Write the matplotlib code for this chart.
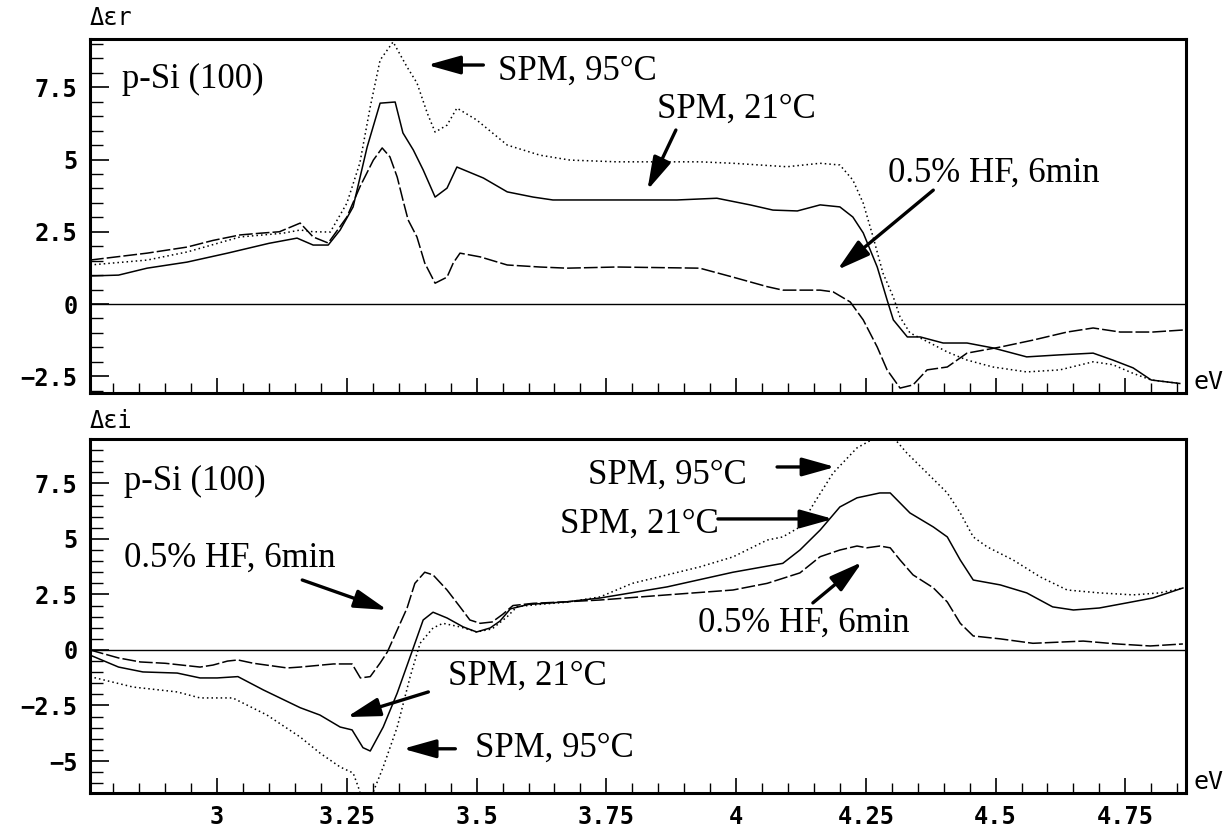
import matplotlib
matplotlib.use('Agg')
import matplotlib.pyplot as plt
from matplotlib.ticker import MultipleLocator

# ---- top panel: delta eps_r ----
r95_x = [2.755, 2.865, 2.942, 3.044, 3.127, 3.16, 3.185, 3.218, 3.25, 3.275, 3.295, 3.314, 3.339,
         3.366, 3.385, 3.405, 3.42, 3.443, 3.462, 3.50, 3.559, 3.622, 3.68, 3.77, 3.93, 3.994,
         4.098, 4.162, 4.2, 4.225, 4.245, 4.264, 4.283, 4.303, 4.316, 4.335, 4.374, 4.407, 4.445,
         4.495, 4.56, 4.624, 4.688, 4.726, 4.765, 4.80, 4.855]
r95_y = [1.35, 1.52, 1.8, 2.32, 2.45, 2.56, 2.5, 2.49, 3.49, 4.88, 6.82, 8.44, 9.07,
         8.2, 7.65, 6.6, 5.95, 6.19, 6.78, 6.37, 5.5, 5.15, 4.98, 4.92, 4.92, 4.87,
         4.75, 4.87, 4.81, 4.29, 3.49, 2.32, 1.07, 0.24, -0.45, -1.0, -1.35, -1.66, -1.94,
         -2.18, -2.35, -2.28, -2.0, -2.1, -2.4, -2.63, -2.75]

r21_x = [2.755, 2.81, 2.865, 2.942, 3.02, 3.10, 3.154, 3.185, 3.214, 3.237, 3.262, 3.289, 3.314,
         3.343, 3.358, 3.378, 3.397, 3.42, 3.443, 3.462, 3.513, 3.559, 3.609, 3.647, 3.886, 3.963,
         4.027, 4.071, 4.118, 4.162, 4.2, 4.225, 4.245, 4.272, 4.291, 4.303, 4.33, 4.355, 4.399,
         4.445, 4.495, 4.56, 4.624, 4.688, 4.726, 4.765, 4.80, 4.855]
r21_y = [0.97, 1.0, 1.24, 1.45, 1.76, 2.1, 2.28, 2.04, 2.04, 2.56, 3.36, 5.43, 6.95,
         6.99, 5.92, 5.33, 4.64, 3.7, 4.01, 4.74, 4.36, 3.88, 3.7, 3.6, 3.6, 3.66,
         3.43, 3.25, 3.22, 3.43, 3.36, 3.01, 2.46, 1.28, 0.14, -0.55, -1.14, -1.14, -1.35,
         -1.35, -1.52, -1.83, -1.76, -1.7, -1.94, -2.21, -2.63, -2.75]

rhf_x = [2.755, 2.865, 2.942, 2.992, 3.044, 3.083, 3.12, 3.16, 3.185, 3.214, 3.25, 3.275, 3.301,
         3.318, 3.333, 3.347, 3.358, 3.368, 3.385, 3.40, 3.42, 3.443, 3.455, 3.468, 3.507, 3.559,
         3.622, 3.674, 3.77, 3.93, 3.994, 4.06, 4.09, 4.162, 4.187, 4.22, 4.245, 4.272, 4.291,
         4.316, 4.341, 4.355, 4.368, 4.407, 4.445, 4.509, 4.572, 4.638, 4.688, 4.74, 4.803, 4.861]
rhf_y = [1.52, 1.76, 1.97, 2.2, 2.39, 2.45, 2.5, 2.8, 2.32, 2.11, 3.01, 4.05, 4.98,
         5.4, 5.09, 4.39, 3.6, 2.91, 2.32, 1.42, 0.72, 0.93, 1.42, 1.76, 1.63, 1.35,
         1.28, 1.24, 1.28, 1.24, 0.93, 0.6, 0.48, 0.48, 0.42, 0.07, -0.55, -1.49, -2.28,
         -2.91, -2.8, -2.53, -2.28, -2.18, -1.7, -1.49, -1.25, -0.97, -0.83, -0.97, -0.97, -0.9]

# ---- bottom panel: delta eps_i ----
i95_x = [2.755, 2.838, 2.923, 2.967, 3.03, 3.096, 3.16, 3.198, 3.237, 3.262, 3.272, 3.28, 3.295,
         3.30, 3.32, 3.347, 3.372, 3.391, 3.416, 3.435, 3.468, 3.50, 3.53, 3.559, 3.578, 3.62,
         3.674, 3.738, 3.80, 3.867, 3.93, 3.994, 4.06, 4.09, 4.123, 4.15, 4.187, 4.233, 4.272,
         4.302, 4.329, 4.368, 4.407, 4.432, 4.457, 4.484, 4.534, 4.586, 4.638, 4.70, 4.765,
         4.817, 4.861]
i95_y = [-1.2, -1.67, -1.89, -2.16, -2.16, -2.93, -3.92, -4.64, -5.27, -5.54, -6.17, -6.8, -6.8,
         -6.44, -5.27, -3.47, -1.2, 0.3, 0.99, 1.2, 1.04, 0.81, 0.95, 1.5, 1.95, 2.05,
         2.15, 2.39, 3.0, 3.38, 3.74, 4.19, 4.95, 5.09, 5.54, 6.6, 7.97, 9.1, 9.6,
         9.6, 8.87, 7.97, 7.07, 6.17, 5.09, 4.64, 4.05, 3.29, 2.7, 2.57, 2.48,
         2.57, 2.79]

i21_x = [2.755, 2.81, 2.857, 2.923, 2.967, 3.0, 3.04, 3.089, 3.16, 3.198, 3.237, 3.26, 3.281,
         3.295, 3.32, 3.347, 3.372, 3.397, 3.416, 3.443, 3.474, 3.50, 3.526, 3.545, 3.565, 3.60,
         3.674, 3.738, 3.867, 3.994, 4.09, 4.123, 4.162, 4.2, 4.233, 4.277, 4.297, 4.335, 4.38,
         4.407, 4.432, 4.457, 4.509, 4.56, 4.61, 4.65, 4.70, 4.753, 4.803, 4.861]
i21_y = [-0.23, -0.77, -0.99, -1.04, -1.26, -1.26, -1.2, -1.8, -2.6, -2.93, -3.47, -3.6, -4.4,
         -4.55, -3.47, -1.94, -0.3, 1.35, 1.7, 1.44, 1.04, 0.81, 0.99, 1.3, 1.85, 2.05,
         2.17, 2.34, 2.84, 3.5, 3.9, 4.5, 5.4, 6.44, 6.85, 7.07, 7.07, 6.17, 5.54,
         5.09, 4.05, 3.15, 2.93, 2.57, 1.94, 1.8, 1.89, 2.12, 2.34, 2.79]

ihf_x = [2.755, 2.81, 2.852, 2.90, 2.967, 2.992, 3.02, 3.04, 3.07, 3.135, 3.16, 3.224, 3.26,
         3.276, 3.295, 3.314, 3.328, 3.347, 3.366, 3.381, 3.40, 3.416, 3.443, 3.468, 3.487, 3.507,
         3.53, 3.55, 3.57, 3.609, 3.674, 3.738, 3.867, 3.994, 4.06, 4.123, 4.162, 4.2, 4.233,
         4.252, 4.277, 4.297, 4.316, 4.341, 4.38, 4.407, 4.432, 4.457, 4.509, 4.572, 4.669,
         4.734, 4.798, 4.861]
ihf_y = [0.0, -0.36, -0.54, -0.6, -0.77, -0.68, -0.5, -0.45, -0.6, -0.81, -0.77, -0.63, -0.63,
         -1.26, -1.2, -0.59, -0.09, 0.9, 1.89, 3.0, 3.5, 3.38, 2.7, 1.94, 1.35, 1.2,
         1.26, 1.6, 2.0, 2.1, 2.17, 2.25, 2.48, 2.7, 3.0, 3.47, 4.2, 4.5, 4.68,
         4.6, 4.68, 4.6, 4.05, 3.38, 2.8, 2.16, 1.2, 0.63, 0.5, 0.3, 0.4,
         0.27, 0.18, 0.27]

x_ticks = [3, 3.25, 3.5, 3.75, 4, 4.25, 4.5, 4.75]
x_labels = ['3', '3.25', '3.5', '3.75', '4', '4.25', '4.5', '4.75']
r_ticks = [-2.5, 0, 2.5, 5, 7.5]
r_labels = ['−2.5', '0', '2.5', '5', '7.5']
i_ticks = [-5, -2.5, 0, 2.5, 5, 7.5]
i_labels = ['−5', '−2.5', '0', '2.5', '5', '7.5']

serif = 'Liberation Serif'
mono = 'DejaVu Sans Mono'

fig = plt.figure(figsize=(12.28, 8.30), dpi=100)
ax1 = fig.add_axes([0.0733, 0.5265, 0.8925, 0.4265])
ax2 = fig.add_axes([0.0733, 0.0446, 0.8925, 0.4265])


def style(ax, yt, yl, ylim, show_x):
    ax.set_xlim(2.755, 4.867)
    ax.set_ylim(*ylim)
    ax.axhline(0, color='black', lw=1.0)
    for s in ax.spines.values():
        s.set_linewidth(2.2)
    ax.set_yticks(yt)
    ax.set_yticklabels(yl, fontfamily=mono, fontsize=17, fontweight='bold')
    ax.yaxis.set_minor_locator(MultipleLocator(0.5))
    ax.set_xticks(x_ticks)
    if show_x:
        ax.set_xticklabels(x_labels, fontfamily=mono, fontsize=17, fontweight='bold')
    else:
        ax.set_xticklabels([])
    ax.xaxis.set_minor_locator(MultipleLocator(0.05))
    ax.tick_params(axis='y', which='major', direction='in', length=14, width=1.2, pad=9)
    ax.tick_params(axis='y', which='minor', direction='in', length=9, width=1.0)
    ax.tick_params(axis='x', which='major', direction='in', length=11, width=1.2, pad=9)
    ax.tick_params(axis='x', which='minor', direction='in', length=7, width=1.0)
    ax.text(1.007, 0.03, 'eV', transform=ax.transAxes, fontfamily=mono, fontsize=18,
            ha='left', va='center')


style(ax1, r_ticks, r_labels, (-3.08, 9.17), False)
style(ax2, i_ticks, i_labels, (-6.44, 9.5), True)

ax1.text(0.0, 1.06, 'Δεr', transform=ax1.transAxes, fontfamily=mono, fontsize=17,
         ha='left', va='center')
ax2.text(0.0, 1.05, 'Δεi', transform=ax2.transAxes, fontfamily=mono, fontsize=17,
         ha='left', va='center')

ax1.plot(r95_x, r95_y, color='black', lw=1.1, ls=(0, (1, 2)))
ax1.plot(r21_x, r21_y, color='black', lw=1.1)
ax1.plot(rhf_x, rhf_y, color='black', lw=1.1, ls=(0, (9, 2)))

ax2.plot(i95_x, i95_y, color='black', lw=1.1, ls=(0, (1, 2)))
ax2.plot(i21_x, i21_y, color='black', lw=1.1)
ax2.plot(ihf_x, ihf_y, color='black', lw=1.1, ls=(0, (9, 2)))

arrow = dict(arrowstyle='-|>,head_length=1.0,head_width=0.28', mutation_scale=20,
             lw=2.4, color='black', shrinkA=0, shrinkB=0)
tfont = dict(fontfamily=serif, fontsize=25, ha='left', va='baseline')

# top panel labels
ax1.text(2.817, 7.47, 'p-Si (100)', **tfont)
ax1.text(3.541, 7.75, 'SPM, 95°C', **tfont)
ax1.annotate('', xy=(3.405, 8.27), xytext=(3.513, 8.27), arrowprops=arrow)
ax1.text(3.848, 6.44, 'SPM, 21°C', **tfont)
ax1.annotate('', xy=(3.829, 3.94), xytext=(3.884, 6.02), arrowprops=arrow)
ax1.text(4.293, 4.22, '0.5% HF, 6min', **tfont)
ax1.annotate('', xy=(4.195, 1.18), xytext=(4.380, 3.94), arrowprops=arrow)

# bottom panel labels
ax2.text(2.82, 7.21, 'p-Si (100)', **tfont)
ax2.text(2.82, 3.74, '0.5% HF, 6min', **tfont)
ax2.annotate('', xy=(3.328, 1.80), xytext=(3.164, 3.15), arrowprops=arrow)
ax2.text(3.445, -1.58, 'SPM, 21°C', **tfont)
ax2.annotate('', xy=(3.25, -3.02), xytext=(3.407, -1.89), arrowprops=arrow)
ax2.text(3.497, -4.82, 'SPM, 95°C', **tfont)
ax2.annotate('', xy=(3.358, -4.45), xytext=(3.459, -4.45), arrowprops=arrow)
ax2.text(3.715, 7.48, 'SPM, 95°C', **tfont)
ax2.annotate('', xy=(4.191, 8.24), xytext=(4.079, 8.24), arrowprops=arrow)
ax2.text(3.661, 5.27, 'SPM, 21°C', **tfont)
ax2.annotate('', xy=(4.187, 5.9), xytext=(3.965, 5.9), arrowprops=arrow)
ax2.text(3.927, 0.81, '0.5% HF, 6min', **tfont)
ax2.annotate('', xy=(4.243, 3.96), xytext=(4.148, 2.12), arrowprops=arrow)

fig.savefig('out.png', dpi=100)
